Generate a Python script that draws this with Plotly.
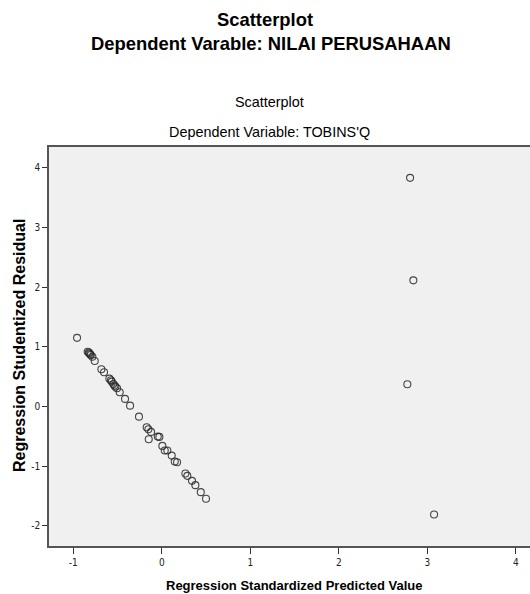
import plotly.graph_objects as go

# Regression Standardized Predicted Value
pred = [-0.958, -0.838, -0.825, -0.819, -0.810, -0.803, -0.785, -0.758,
        -0.683, -0.653, -0.593, -0.575, -0.566, -0.548, -0.535, -0.525, -0.506, -0.476,
        -0.416, -0.359, -0.258, -0.171, -0.152, -0.122, -0.148,
        -0.046, -0.028, 0.006, 0.033, 0.062, 0.112, 0.146, 0.172,
        0.266, 0.288, 0.341, 0.379, 0.440, 0.499,
        2.805, 2.842, 2.774, 3.076]
# Regression Studentized Residual
resid = [1.15, 0.918, 0.905, 0.89, 0.875, 0.863, 0.834, 0.762,
         0.623, 0.573, 0.466, 0.44, 0.416, 0.377, 0.35, 0.332, 0.305, 0.238,
         0.126, 0.013, -0.171, -0.349, -0.382, -0.427, -0.549,
         -0.506, -0.511, -0.662, -0.740, -0.740, -0.824, -0.924, -0.935,
         -1.125, -1.164, -1.248, -1.320, -1.437, -1.549,
         3.833, 2.114, 0.372, -1.812]

x_ticks = [-1, 0, 1, 2, 3, 4]
y_ticks = [-2, -1, 0, 1, 2, 3, 4]

narrow = "DejaVu Sans Condensed, Liberation Sans, Arial, sans-serif"
arial = "Liberation Sans, Arial, sans-serif"

W, H = 530, 594
L, R, T, B = 49, 0, 147, 48

fig = go.Figure()
fig.add_trace(go.Scatter(
    x=pred, y=resid, mode="markers",
    marker=dict(symbol="circle-open", size=7,
                color="rgba(40,40,40,0.85)", line=dict(width=1.1)),
    showlegend=False, hoverinfo="x+y"))

fig.update_layout(
    width=W, height=H,
    margin=dict(l=L, r=R, t=T, b=B),
    paper_bgcolor="white", plot_bgcolor="#f0f0f0",
    xaxis=dict(range=[-1.275, 4.16], tickvals=x_ticks, ticktext=[str(v) for v in x_ticks],
               showgrid=False, zeroline=False, showline=True, linecolor="#555555",
               linewidth=1.5, mirror=True, ticks="outside", ticklen=6, tickwidth=1.2,
               tickcolor="#333333",
               tickfont=dict(family=narrow, size=10, color="#222222")),
    yaxis=dict(range=[-2.34, 4.35], tickvals=y_ticks, ticktext=[str(v) for v in y_ticks],
               showgrid=False, zeroline=False, showline=True, linecolor="#555555",
               linewidth=1.5, mirror=False, ticks="outside", ticklen=5, tickwidth=1.2,
               tickcolor="#333333",
               tickfont=dict(family=narrow, size=10, color="#222222")),
)

# annotations placed by pixel position (x, y from top-left), converted to paper coords
labels = [
    ("<b>Scatterplot</b>", 265, 19, arial, 18.4, 0),
    ("<b>Dependent Varable: NILAI PERUSAHAAN</b>", 271, 44, arial, 18.4, 0),
    ("Scatterplot", 269, 102, arial, 14.4, 0),
    ("Dependent Variable: TOBINS'Q", 269, 132, arial, 14.4, 0),
    ("<b>Regression Standardized Predicted Value</b>", 294, 585, arial, 13, 0),
    ("<b>Regression Studentized Residual</b>", 19, 346, arial, 16, -90),
]
W_plot = W - L - R
H_plot = H - T - B
for text, px, py, fam, size, ang in labels:
    fig.add_annotation(
        text=text, showarrow=False, xref="paper", yref="paper",
        x=(px - L) / W_plot, y=((H - py) - B) / H_plot,
        xanchor="center", yanchor="middle", textangle=ang,
        font=dict(family=fam, size=size, color="black"))

fig.write_html("out.html", config={"displayModeBar": False},
               post_script="document.body.style.margin='0';document.body.style.overflow='hidden';")
